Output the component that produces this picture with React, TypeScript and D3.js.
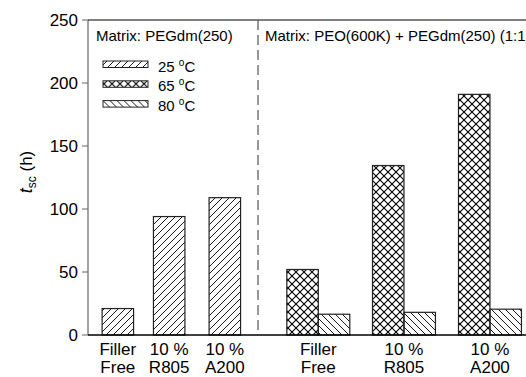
import React from 'react';
import * as d3 from 'd3';

const leftCategories = [["Filler", "Free"], ["10 %", "R805"], ["10 %", "A200"]];
const leftPositions = [0.347, 0.944, 1.591];
const values25 = [21, 94, 109];

const rightCategories = [["Filler", "Free"], ["10 %", "R805"], ["10 %", "A200"]];
const rightPositions = [2.678, 3.674, 4.674];
const values65 = [52, 134.5, 191];
const values80 = [16.5, 18, 20.5];

const yTicks = [0, 50, 100, 150, 200, 250];
const legendTemps = ["25", "65", "80"];
const groupTitles = ["Matrix: PEGdm(250)", "Matrix: PEO(600K) + PEGdm(250) (1:1)"];
const dividerPosition = 1.977;

const W = 526, H = 377;
const FONT = "'Liberation Sans', Arial, sans-serif";

export default function App() {
  const x = d3.scaleLinear().domain([0, 5.2]).range([88, 88 + 5.2 * 86]);
  const y = d3.scaleLinear().domain([0, 250]).range([335, 20]);
  const bw = x(0.366) - x(0);
  const patterns = ['p25', 'p65', 'p80'];

  return (
    <svg width={W} height={H} style={{ position: 'fixed', left: 0, top: 0, background: '#fff' }} fontFamily={FONT}>
      <defs>
        <pattern id="p25" patternUnits="userSpaceOnUse" width={7} height={7}>
          <path d="M-1,1 L1,-1 M0,7 L7,0 M6,8 L8,6" stroke="#000" strokeWidth={0.9} />
        </pattern>
        <pattern id="p65" patternUnits="userSpaceOnUse" width={8} height={8}>
          <path d="M0,0 L8,8 M0,8 L8,0" stroke="#000" strokeWidth={1.1} />
        </pattern>
        <pattern id="p80" patternUnits="userSpaceOnUse" width={7} height={7}>
          <path d="M0,0 L7,7 M-1,6 L1,8 M6,-1 L8,1" stroke="#000" strokeWidth={0.9} />
        </pattern>
      </defs>
      <rect width={W} height={H} fill="#fff" />

      {/* bars */}
      {leftPositions.map((p, i) => (
        <rect key={'l' + i} x={x(p) - bw / 2} y={y(values25[i])} width={bw} height={y(0) - y(values25[i])}
          fill="url(#p25)" stroke="#222" strokeWidth={1.2} />
      ))}
      {rightPositions.map((p, i) => (
        <g key={'r' + i}>
          <rect x={x(p) - bw} y={y(values65[i])} width={bw} height={y(0) - y(values65[i])}
            fill="url(#p65)" stroke="#222" strokeWidth={1.2} />
          <rect x={x(p)} y={y(values80[i])} width={bw} height={y(0) - y(values80[i])}
            fill="url(#p80)" stroke="#222" strokeWidth={1.2} />
        </g>
      ))}

      {/* frame */}
      <line x1={x(0)} x2={x(0)} y1={y(250)} y2={y(0)} stroke="#666" strokeWidth={1.2} />
      <line x1={x(0)} x2={W} y1={y(250)} y2={y(250)} stroke="#000" strokeWidth={1} />
      <line x1={x(0)} x2={W} y1={y(0)} y2={y(0)} stroke="#000" strokeWidth={1.6} />
      <line x1={x(dividerPosition)} x2={x(dividerPosition)} y1={y(250)} y2={y(0)} stroke="#555" strokeWidth={1.2} strokeDasharray="10,5" />

      {/* y axis */}
      {yTicks.map(t => (
        <g key={t}>
          <line x1={x(0) - 6} x2={x(0)} y1={y(t)} y2={y(t)} stroke="#666" strokeWidth={1} />
          <text x={x(0) - 10} y={y(t)} dy="0.36em" textAnchor="end" fontSize={17}>{t}</text>
        </g>
      ))}
      <text transform={`translate(32,${172}) rotate(-90)`} textAnchor="middle" fontSize={17}>
        <tspan fontStyle="italic" fontSize={18}>t</tspan>
        <tspan fontSize={12} dy={4}>sc</tspan>
        <tspan dy={-4}> (h)</tspan>
      </text>

      {/* x labels */}
      {leftPositions.map((p, i) => (
        <text key={'lx' + i} x={x(p)} y={355} textAnchor="middle" fontSize={17}>
          <tspan x={x(p)}>{leftCategories[i][0]}</tspan>
          <tspan x={x(p)} dy={18}>{leftCategories[i][1]}</tspan>
        </text>
      ))}
      {rightPositions.map((p, i) => (
        <text key={'rx' + i} x={x(p)} y={355} textAnchor="middle" fontSize={17}>
          <tspan x={x(p)}>{rightCategories[i][0]}</tspan>
          <tspan x={x(p)} dy={18}>{rightCategories[i][1]}</tspan>
        </text>
      ))}

      {/* group titles */}
      <text x={96} y={41} fontSize={15}>{groupTitles[0]}</text>
      <text x={265} y={41} fontSize={15}>{groupTitles[1]}</text>

      {/* legend */}
      {legendTemps.map((t, i) => (
        <g key={'lg' + i} transform={`translate(0,${i * 19.8})`}>
          <rect x={103} y={61} width={45} height={6.5} fill={`url(#${patterns[i]})`} stroke="#222" strokeWidth={1} />
          <text x={158} y={71.5} fontSize={15}>
            {t + ' '}
            <tspan fontSize={10} dy={-6}>o</tspan>
            <tspan dy={6}>C</tspan>
          </text>
        </g>
      ))}
    </svg>
  );
}
